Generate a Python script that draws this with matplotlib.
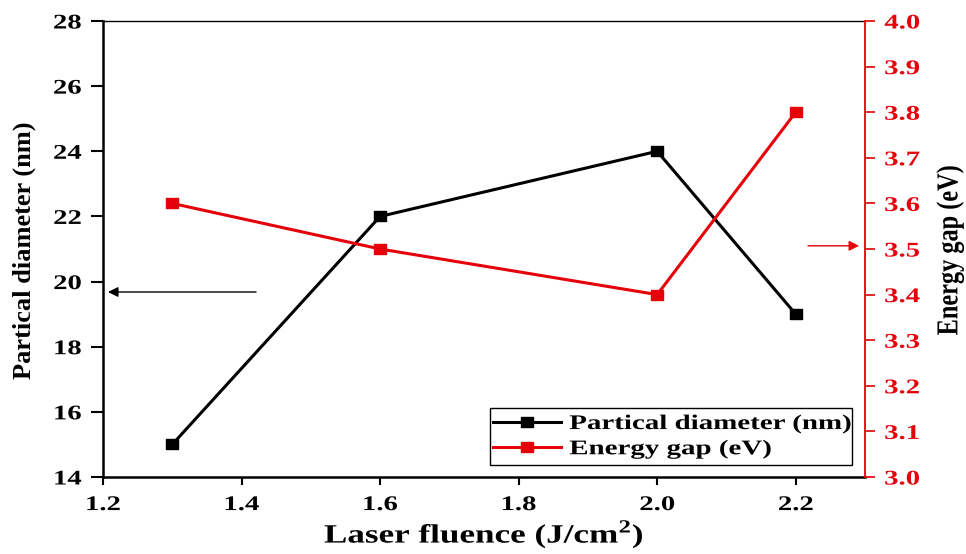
import matplotlib
matplotlib.use("Agg")
import matplotlib.pyplot as plt
from matplotlib.patheffects import AbstractPathEffect
from matplotlib.transforms import Affine2D
from matplotlib.patches import Rectangle
from matplotlib.path import Path

fluence = [1.3, 1.6, 2.0, 2.2]
diameter_nm = [15, 22, 24, 19]
energy_gap_ev = [3.6, 3.5, 3.4, 3.8]

x_ticks = [1.2, 1.4, 1.6, 1.8, 2.0, 2.2]
left_ticks = [14, 16, 18, 20, 22, 24, 26, 28]
right_ticks = [3.0, 3.1, 3.2, 3.3, 3.4, 3.5, 3.6, 3.7, 3.8, 3.9, 4.0]

series_labels = ["Partical diameter (nm)", "Energy gap (eV)"]

RED = "#e6000a"
plt.rcParams["font.family"] = ["Liberation Serif", "DejaVu Serif"]
plt.rcParams["font.weight"] = "bold"
plt.rcParams["mathtext.fontset"] = "custom"
plt.rcParams["mathtext.rm"] = "Liberation Serif:bold"
plt.rcParams["mathtext.bf"] = "Liberation Serif:bold"


class Widen(AbstractPathEffect):
    """Draw glyphs scaled along (sx) and across (sy) the text direction,
    keeping the anchor fixed."""

    def __init__(self, sx=1.35, ha="center", sy=1.0):
        super().__init__()
        self.sx = sx
        self.sy = sy
        self.ha = ha

    def draw_path(self, renderer, gc, tpath, affine, rgbFace=None):
        ext = tpath.get_extents()
        ax0 = {"left": ext.x0, "center": 0.5 * (ext.x0 + ext.x1), "right": ext.x1}[self.ha]
        ay0 = 0.5 * (ext.y0 + ext.y1)
        t = Affine2D().translate(-ax0, -ay0).scale(self.sx, self.sy).translate(ax0, ay0)
        renderer.draw_path(gc, tpath, t + affine, rgbFace)


# slightly wide square marker
wide_square = Path([[-1, -0.74], [1, -0.74], [1, 0.74], [-1, 0.74], [-1, -0.74]],
                   [Path.MOVETO, Path.LINETO, Path.LINETO, Path.LINETO, Path.CLOSEPOLY])

fig = plt.figure(figsize=(9.66, 5.54), dpi=100)
ax = fig.add_axes([103 / 966, 1 - 477 / 554, (865 - 103) / 966, (477 - 21) / 554])
ax2 = ax.twinx()

l1, = ax.plot(fluence, diameter_nm, color="black", lw=2.2, marker=wide_square, ms=9)
l2, = ax2.plot(fluence, energy_gap_ev, color=RED, lw=2.2, marker=wide_square, ms=9)

ax.set_xlim(1.2, 2.3)
ax.set_ylim(14, 28)
ax2.set_ylim(3.0, 4.0)
ax.set_xticks(x_ticks)
ax.set_xticklabels([f"{v:.1f}" for v in x_ticks])
ax.set_yticks(left_ticks)
ax.set_yticklabels([str(v) for v in left_ticks])
ax2.set_yticks(right_ticks)
ax2.set_yticklabels([f"{v:.1f}" for v in right_ticks])

ax.tick_params(axis="y", direction="out", length=8.5, width=1.5, labelsize=15, pad=7)
ax.tick_params(axis="x", direction="out", length=6, width=1.5, labelsize=15, pad=7)
ax2.tick_params(axis="y", direction="out", length=7, width=1.2, labelsize=15,
                colors=RED, pad=7)

for lab in ax.get_xticklabels():
    lab.set_path_effects([Widen(1.38, "center")])
for lab in ax.get_yticklabels():
    lab.set_path_effects([Widen(1.38, "right")])
for lab in ax2.get_yticklabels():
    lab.set_path_effects([Widen(1.38, "left")])

for s in ["left", "bottom"]:
    ax.spines[s].set_linewidth(1.8)
ax.spines["top"].set_linewidth(1.0)
ax.spines["right"].set_visible(False)
ax2.spines["right"].set_color(RED)
ax2.spines["right"].set_linewidth(1.3)
for s in ["left", "top", "bottom"]:
    ax2.spines[s].set_visible(False)

xl = ax.set_xlabel("Laser fluence (J/cm$^{2}$)", fontsize=19, fontweight="bold",
                   va="center", ha="center")
ax.xaxis.set_label_coords(0.5, -0.126)
xl.set_path_effects([Widen(1.33, "center")])

ax.set_ylabel("Partical diameter (nm)", fontsize=19, fontweight="bold",
              va="center", ha="center")
ax.yaxis.set_label_coords(-0.103, 0.497)
yl2 = ax2.set_ylabel("Energy gap (eV)", fontsize=17.5, fontweight="bold",
                     va="center", ha="center", rotation=90)
ax2.yaxis.set_label_coords(1.112, 0.497)
yl2.set_path_effects([Widen(1.0, "center", sy=1.25)])

# arrows pointing to each series' axis
ax.annotate("", xy=(1.2072, 19.68), xytext=(1.4209, 19.68),
            arrowprops=dict(arrowstyle="-|>", color="black", lw=1.0,
                            mutation_scale=15, shrinkA=0, shrinkB=0))
ax2.annotate("", xy=(2.2915, 3.507), xytext=(2.2177, 3.507),
             arrowprops=dict(arrowstyle="-|>", color=RED, lw=1.0,
                             mutation_scale=15, shrinkA=0, shrinkB=0))

leg = ax.legend([l1, l2], series_labels,
                loc="center left", bbox_to_anchor=(0.5095, 0.0885),
                fontsize=15, frameon=False,
                handlelength=3.25, borderpad=0.1, labelspacing=0.25,
                handletextpad=0.4, borderaxespad=0)
for t in leg.get_texts():
    t.set_fontweight("bold")
    t.set_path_effects([Widen(1.39, "left")])

# legend frame sized to the widened labels
ax.add_patch(Rectangle((0.508, 0.026), 0.983 - 0.508, 0.151 - 0.026,
                       transform=ax.transAxes, fill=False, edgecolor="black",
                       lw=1.0, zorder=5))

fig.savefig("out.png", dpi=100)
